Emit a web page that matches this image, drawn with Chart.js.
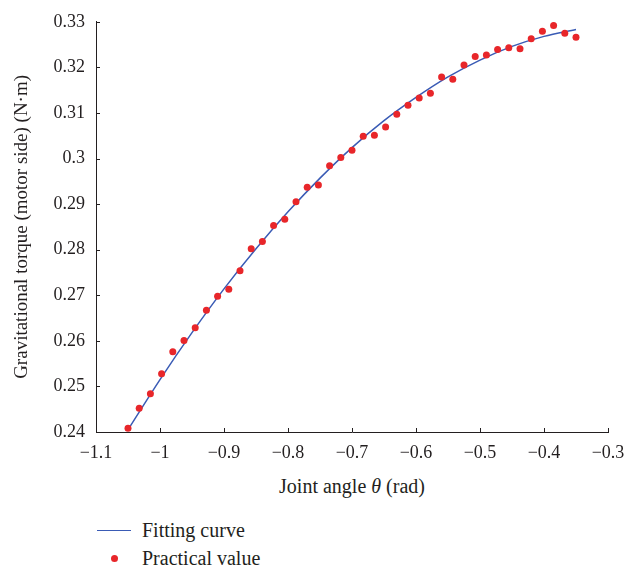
<!DOCTYPE html>
<html>
<head>
<meta charset="utf-8">
<script src="https://cdn.jsdelivr.net/npm/chart.js@4.4.0/dist/chart.umd.min.js"></script>
<style>
  html, body { margin: 0; padding: 0; background: #fff; }
  #wrap { position: relative; width: 641px; height: 576px; font-family: "Liberation Serif", "DejaVu Serif", serif; color: #231f20; }
  #chart { position: absolute; left: 0; top: 0; }
  .xtitle { position: absolute; left: 96px; width: 512px; top: 474px; text-align: center; font-size: 20px; line-height: 24px; }
  .legend { position: absolute; left: 97px; top: 516px; font-size: 20px; }
  .row { display: flex; align-items: center; height: 28px; }
  .swatch { width: 34px; margin-right: 11px; display: flex; justify-content: center; align-items: center; }
  .line { width: 34px; height: 0; border-top: 1.5px solid #3a5bb5; }
  .dot { width: 7px; height: 7px; border-radius: 50%; background: #e8262a; }
</style>
</head>
<body>
<div id="wrap">
  <canvas id="chart" width="641" height="470"></canvas>
  <div class="xtitle">Joint angle <i>θ</i> (rad)</div>
  <div class="legend">
    <div class="row"><span class="swatch"><span class="line"></span></span>Fitting curve</div>
    <div class="row"><span class="swatch"><span class="dot"></span></span>Practical value</div>
  </div>
</div>
<script>
// measured points (rad, N·m)
const practicalX = [
  -1.0500, -1.0325, -1.0150, -0.9975, -0.9800, -0.9625, -0.9450, -0.9275, -0.9100, -0.8925,
  -0.8750, -0.8575, -0.8400, -0.8225, -0.8050, -0.7875, -0.7700, -0.7525, -0.7350, -0.7175,
  -0.7000, -0.6825, -0.6650, -0.6475, -0.6300, -0.6125, -0.5950, -0.5775, -0.5600, -0.5425,
  -0.5250, -0.5075, -0.4900, -0.4725, -0.4550, -0.4375, -0.4200, -0.4025, -0.3850, -0.3675,
  -0.3500
];
const practicalY = [
  0.2408, 0.2452, 0.2484, 0.2528, 0.2576, 0.2601, 0.2629, 0.2667, 0.2698, 0.2713,
  0.2754, 0.2802, 0.2818, 0.2853, 0.2867, 0.2905, 0.2937, 0.2942, 0.2984, 0.3002,
  0.3018, 0.3049, 0.3051, 0.3069, 0.3097, 0.3117, 0.3133, 0.3143, 0.3179, 0.3174,
  0.3205, 0.3224, 0.3227, 0.3239, 0.3243, 0.3241, 0.3263, 0.3279, 0.3292, 0.3275,
  0.3266
];

// fitted curve
const fitX = [-1.05, -1.00, -0.95, -0.90, -0.85, -0.80, -0.75, -0.70, -0.65, -0.60, -0.55, -0.50, -0.45, -0.40, -0.35];
const fitY = [0.2405, 0.2515, 0.2618, 0.2714, 0.2802, 0.2883, 0.2957, 0.3024, 0.3083, 0.3134, 0.3179, 0.3216, 0.3246, 0.3268, 0.3283];

const xRange = [-1.1, -0.3];
const yRange = [0.24, 0.33];

const textColor = "#231f20";
const axisColor = "#231f20";
const fontFamily = "'Liberation Serif', 'DejaVu Serif', serif";

const toPoints = (xs, ys) => xs.map((x, i) => ({ x: x, y: ys[i] }));
const minus = (s) => s.replace("-", "\u2212");

// ticks sit inside the plot, like the original
const insideTicks = {
  id: "insideTicks",
  afterDraw(chart) {
    const { ctx, scales } = chart;
    const xs = scales.x, ys = scales.y;
    ctx.save();
    ctx.strokeStyle = axisColor;
    ctx.lineWidth = 1;
    ctx.beginPath();
    xs.ticks.forEach((t) => {
      const px = Math.round(xs.getPixelForValue(t.value)) + 0.5;
      ctx.moveTo(px, ys.bottom);
      ctx.lineTo(px, ys.bottom - 4);
    });
    ys.ticks.forEach((t) => {
      const py = Math.round(ys.getPixelForValue(t.value)) + 0.5;
      ctx.moveTo(xs.left, py);
      ctx.lineTo(xs.left + 4, py);
    });
    ctx.stroke();
    ctx.restore();
  },
};

const cfg = {
  type: "scatter",
  data: {
    datasets: [
      {
        label: "Fitting curve",
        data: toPoints(fitX, fitY),
        showLine: true,
        borderColor: "#3a5bb5",
        borderWidth: 1.5,
        pointRadius: 0,
        cubicInterpolationMode: "monotone",
        order: 2,
      },
      {
        label: "Practical value",
        data: toPoints(practicalX, practicalY),
        backgroundColor: "#e8262a",
        borderWidth: 0,
        pointRadius: 3.5,
        order: 1,
      },
    ],
  },
  options: {
    responsive: false,
    animation: false,
    layout: { padding: { top: 12, right: 33, left: 0, bottom: 0 } },
    plugins: {
      legend: { display: false },
      tooltip: { enabled: false },
    },
    scales: {
      x: {
        type: "linear",
        min: xRange[0],
        max: xRange[1],
        grid: { display: false, drawTicks: false },
        border: { color: axisColor, width: 1 },
        ticks: {
          stepSize: 0.1,
          padding: 10,
          color: textColor,
          font: { family: fontFamily, size: 18 },
          maxRotation: 0,
          callback: (v) => minus(String(Math.round(v * 10) / 10)),
        },
        afterFit: (s) => { s.height = 38; },
      },
      y: {
        min: yRange[0],
        max: yRange[1],
        grid: { display: false, drawTicks: false },
        border: { color: axisColor, width: 1 },
        title: {
          display: true,
          text: "Gravitational torque (motor side) (N·m)",
          color: textColor,
          font: { family: fontFamily, size: 19 },
          padding: { top: 11, bottom: 0 },
        },
        ticks: {
          stepSize: 0.01,
          padding: 11,
          color: textColor,
          font: { family: fontFamily, size: 18 },
          callback: (v) => String(Math.round(v * 100) / 100),
        },
        afterFit: (s) => { s.width = 96; },
      },
    },
  },
  plugins: [insideTicks],
};

new Chart(document.getElementById("chart"), cfg);
</script>
</body>
</html>
